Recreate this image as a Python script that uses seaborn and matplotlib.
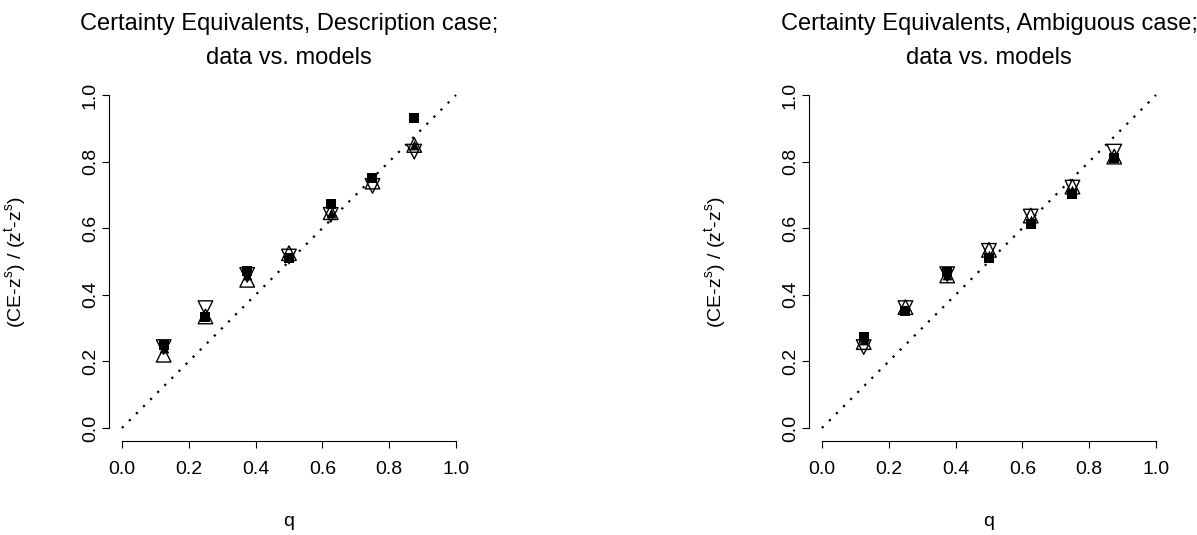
import matplotlib
matplotlib.use("Agg")
import matplotlib.pyplot as plt
import seaborn as sns

sns.set_theme(style="white")
plt.rcParams["font.family"] = ["Liberation Sans", "DejaVu Sans"]
plt.rcParams.update({"text.color": "black", "axes.labelcolor": "black",
                     "xtick.color": "black", "ytick.color": "black"})

q = [0.125, 0.25, 0.375, 0.5, 0.625, 0.75, 0.875]

# Description case
desc_data = [0.250, 0.333, 0.470, 0.510, 0.672, 0.750, 0.930]
desc_model_filled = [0.240, 0.335, 0.460, 0.515, 0.645, 0.755, 0.850]
desc_model_up = [0.220, 0.335, 0.445, 0.525, 0.648, 0.740, 0.850]
desc_model_down = [0.243, 0.360, 0.460, 0.515, 0.640, 0.727, 0.830]

# Ambiguous case
amb_data = [0.273, 0.350, 0.467, 0.510, 0.612, 0.703, 0.810]
amb_model_filled = [0.265, 0.355, 0.460, 0.520, 0.625, 0.715, 0.815]
amb_model_up = [0.258, 0.363, 0.458, 0.535, 0.638, 0.725, 0.815]
amb_model_down = [0.243, 0.360, 0.462, 0.532, 0.635, 0.722, 0.830]

title_lines = [("Certainty Equivalents, Description case;", "data vs. models"),
               ("Certainty Equivalents, Ambiguous case;", "data vs. models")]
ticks = [0.0, 0.2, 0.4, 0.6, 0.8, 1.0]
tick_labels = ["0.0", "0.2", "0.4", "0.6", "0.8", "1.0"]

FS = 14
FS_TITLE = 17
fig = plt.figure(figsize=(11.97, 5.35), dpi=100)
axes = [fig.add_axes([0.0907, 0.1751, 0.3014, 0.6722]),
        fig.add_axes([0.6755, 0.1751, 0.3014, 0.6722])]

panels = [(desc_data, desc_model_filled, desc_model_up, desc_model_down),
          (amb_data, amb_model_filled, amb_model_up, amb_model_down)]

for ax, (t1, t2), (d, mf, mu, md) in zip(axes, title_lines, panels):
    # 45-degree reference line
    ax.plot([0, 1], [0, 1], linestyle=(0, (1, 3.5)), color="black", lw=1.6)
    sns.scatterplot(x=q, y=d, ax=ax, marker="s", s=55, color="black",
                    edgecolor="black", linewidth=0, zorder=3)
    sns.scatterplot(x=q, y=mf, ax=ax, marker="^", s=50, color="black",
                    edgecolor="black", linewidth=0, zorder=4)
    sns.scatterplot(x=q, y=mu, ax=ax, marker="^", s=110, facecolors="none",
                    edgecolors="black", linewidth=1.0, zorder=5)
    sns.scatterplot(x=q, y=md, ax=ax, marker="v", s=110, facecolors="none",
                    edgecolors="black", linewidth=1.0, zorder=5)

    ax.set_xlim(-0.04, 1.04)
    ax.set_ylim(-0.04, 1.04)
    for side in ("top", "right"):
        ax.spines[side].set_visible(False)
    for side in ("left", "bottom"):
        ax.spines[side].set_bounds(0, 1)
        ax.spines[side].set_color("black")
        ax.spines[side].set_linewidth(0.8)
    ax.set_xticks(ticks)
    ax.set_xticklabels(tick_labels, fontsize=FS)
    ax.set_yticks(ticks)
    ax.set_yticklabels(tick_labels, fontsize=FS, rotation=90, va="center")
    ax.tick_params(axis="both", direction="out", length=5, width=0.8,
                   color="black", labelcolor="black", left=True, bottom=True)
    ax.tick_params(axis="x", pad=9)
    ax.tick_params(axis="y", pad=2)
    ax.set_xlabel("q", fontsize=FS)
    ax.xaxis.set_label_coords(0.5, -0.198)
    ax.set_ylabel(r"(CE-z$^{\mathregular{s}}$) / (z$^{\mathregular{t}}$-z$^{\mathregular{s}}$)",
                  fontsize=FS)
    ax.yaxis.set_label_coords(-0.22, 0.5)
    ax.text(0.5, 1.0 + 58 / 359.6, t1, transform=ax.transAxes, ha="center",
            va="center", fontsize=FS_TITLE)
    ax.text(0.5, 1.0 + 24 / 359.6, t2, transform=ax.transAxes, ha="center",
            va="center", fontsize=FS_TITLE)

fig.savefig("out.png", dpi=100)
